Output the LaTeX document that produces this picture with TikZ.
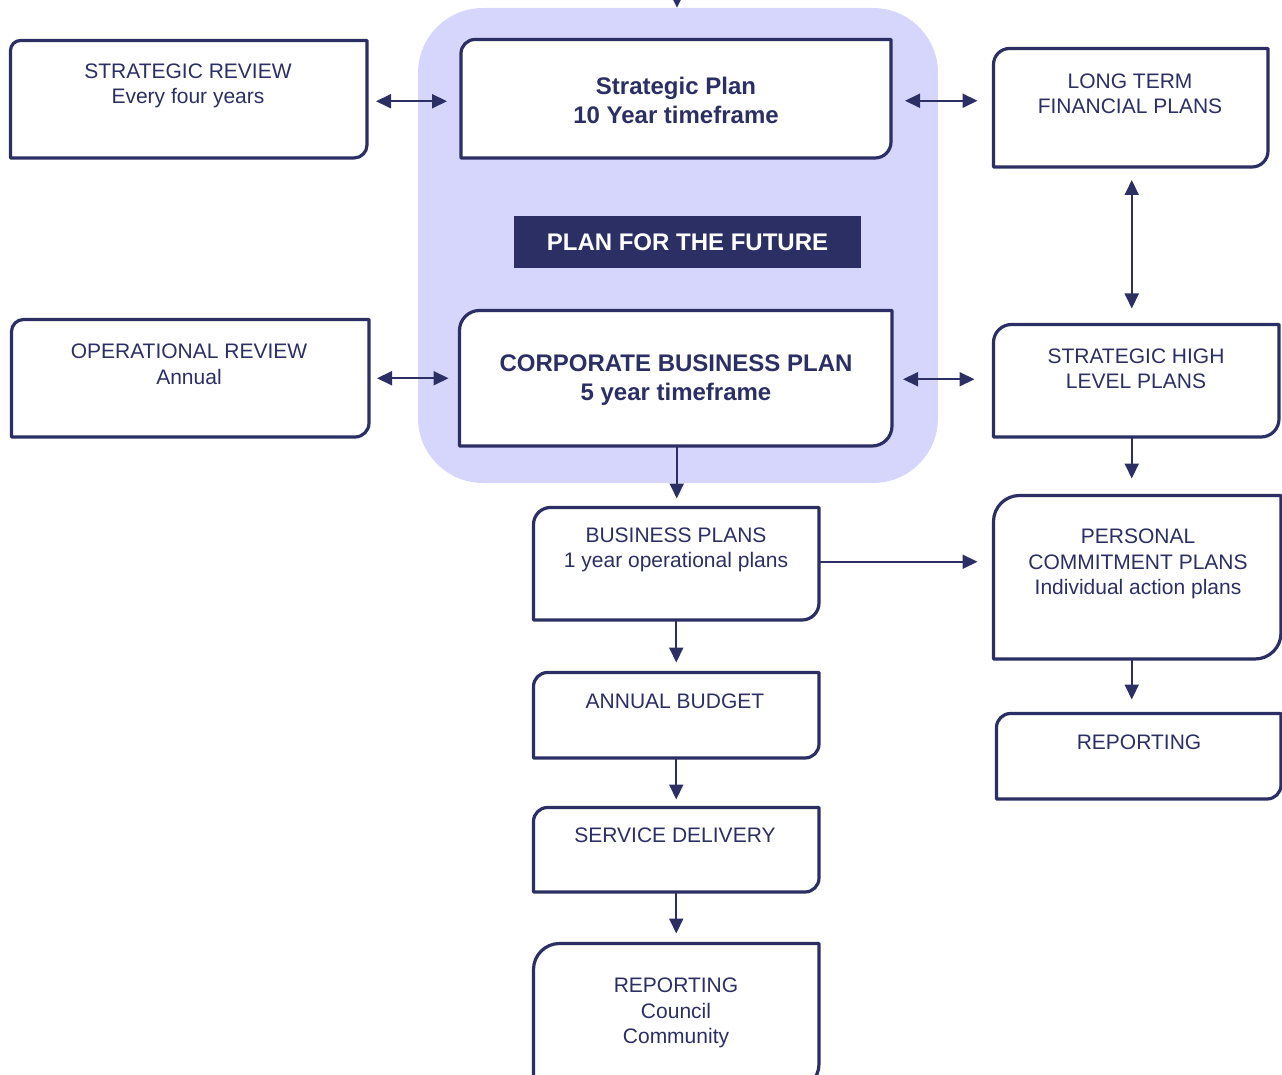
\documentclass[tikz,border=0pt]{standalone}
\usepackage{fontspec}
\setmainfont{Liberation Sans}
\usetikzlibrary{arrows.meta,calc}
\definecolor{navy}{HTML}{2C2F63}
\definecolor{lav}{HTML}{D6D6FD}
\newcommand\framebx[3]{%
  \draw[boxline] (#1.south west) -- ($(#1.north west)+(0,#2)$)
    arc[start angle=180,end angle=90,radius=#2pt] -- (#1.north east)
    -- ($(#1.south east)+(0,-#3)$)
    arc[start angle=0,end angle=-90,radius=#3pt] -- cycle;}
\begin{document}
\begin{tikzpicture}[x=1pt,y=-1pt,
  boxline/.style={draw=navy,fill=white,line width=3.2pt,line join=round},
  bxn/.style={inner sep=0pt,outer sep=0pt},
  txt/.style={text=navy,align=center,inner sep=0pt,font=\fontsize{21}{25.5}\selectfont},
  btxt/.style={text=navy,align=center,inner sep=0pt,font=\fontsize{24}{29}\selectfont\bfseries},
  arr/.style={draw=navy,line width=2pt,-{Triangle[length=15pt,width=14pt]}},
  dbl/.style={draw=navy,line width=2pt,{Triangle[length=15pt,width=14pt]}-{Triangle[length=15pt,width=14pt]}},
  bgbox/.style={fill=lav,rounded corners=65pt,inner sep=0pt},
  titlebar/.style={fill=navy,text=white,inner sep=0pt,font=\fontsize{24}{29}\selectfont\bfseries}]
\useasboundingbox (0,0) rectangle (1282,1075);
% background panel
\node[bgbox,minimum width=520pt,minimum height=475pt] (bg) at (678,245.5) {};
\node[titlebar,minimum width=347pt,minimum height=52pt] (title) at (687.5,242) {PLAN FOR THE FUTURE};
% box frames (named rectangles)
\node[bxn,minimum width=356.5pt,minimum height=117.5pt] (sr) at (188.75,99.25) {};
\node[bxn,minimum width=430pt,minimum height=118.5pt] (sp) at (676,98.75) {};
\node[bxn,minimum width=274.5pt,minimum height=118.5pt] (lt) at (1130.75,107.75) {};
\node[bxn,minimum width=357.5pt,minimum height=117.5pt] (or) at (190.25,378.25) {};
\node[bxn,minimum width=432.5pt,minimum height=135.5pt] (cbp) at (675.75,378.25) {};
\node[bxn,minimum width=285.5pt,minimum height=112.5pt] (shl) at (1136.25,380.75) {};
\node[bxn,minimum width=285.5pt,minimum height=112.5pt] (bp) at (676.25,563.75) {};
\node[bxn,minimum width=287.5pt,minimum height=163.5pt] (pcp) at (1137.25,577.25) {};
\node[bxn,minimum width=284.5pt,minimum height=85.5pt] (rr) at (1138.75,756.25) {};
\node[bxn,minimum width=285.5pt,minimum height=85.5pt] (ab) at (676.25,715.25) {};
\node[bxn,minimum width=285.5pt,minimum height=84.5pt] (sd) at (676.25,849.75) {};
\node[bxn,minimum width=285.5pt,minimum height=146.5pt] (rb) at (676.25,1016.75) {};
\framebx{sr}{10}{13}
\framebx{sp}{14}{16}
\framebx{lt}{16}{16}
\framebx{or}{12}{14}
\framebx{cbp}{20}{20}
\framebx{shl}{18}{18}
\framebx{bp}{17}{17}
\framebx{pcp}{26}{26}
\framebx{rr}{14}{14}
\framebx{ab}{14}{14}
\framebx{sd}{14}{14}
\framebx{rb}{26}{26}
% texts
\node[txt] (srt) at (188,86) {STRATEGIC REVIEW\\Every four years};
\node[btxt] (spt) at (676,100) {Strategic Plan\\10 Year timeframe};
\node[txt] (ltt) at (1130,94) {LONG TERM\\FINANCIAL PLANS};
\node[txt] (ort) at (189,364.5) {OPERATIONAL REVIEW\\Annual};
\node[btxt] (cbpt) at (676,380.5) {CORPORATE BUSINESS PLAN\\5 year timeframe};
\node[txt] (shlt) at (1136,369) {STRATEGIC HIGH\\LEVEL PLANS};
\node[txt] (bpt) at (676,550) {BUSINESS PLANS\\1 year operational plans};
\node[txt] (pcpt) at (1138,564) {PERSONAL\\COMMITMENT PLANS\\Individual action plans};
\node[txt] (rrt) at (1139,742) {REPORTING};
\node[txt] (abt) at (675,701) {ANNUAL BUDGET};
\node[txt] (sdt) at (675,835) {SERVICE DELIVERY};
\node[txt] (rbt) at (676,1013) {REPORTING\\Council\\Community};
% connectors
\coordinate (top) at (677,-40);
\draw[arr] (top) -- (top |- bg.north);
\draw[dbl] ($(sr.east)+(9,2)$) -- ($(sr.east -| sp.west)+(-14,2)$);
\draw[dbl] ($(sp.east)+(14,2)$) -- ($(sp.east -| lt.west)+(-16,2)$);
\draw[dbl] ($(lt.south)+(1,13)$) -- ($(lt.south |- shl.north)+(1,-16)$);
\draw[dbl] ($(or.east)+(8,0)$) -- ($(or.east -| cbp.west)+(-11,0)$);
\draw[dbl] ($(cbp.east)+(11,1)$) -- ($(cbp.east -| shl.west)+(-19,1)$);
\draw[arr] ($(cbp.south)+(1,0)$) -- ($(cbp.south |- bp.north)+(1,-9)$);
\draw[arr] ($(shl.south -| lt.south)+(1,0)$) -- ($(pcp.north -| lt.south)+(1,-17)$);
\draw[arr] ($(pcp.south -| lt.south)+(1,0)$) -- ($(rr.north -| lt.south)+(1,-14)$);
\draw[arr] ($(bp.east)+(0,-2)$) -- ($(bp.east -| pcp.west)+(-16,-2)$);
\draw[arr] (bp.south) -- ($(bp.south |- ab.north)+(0,-10)$);
\draw[arr] (ab.south) -- ($(ab.south |- sd.north)+(0,-8)$);
\draw[arr] (sd.south) -- ($(sd.south |- rb.north)+(0,-10)$);
\end{tikzpicture}
\end{document}
